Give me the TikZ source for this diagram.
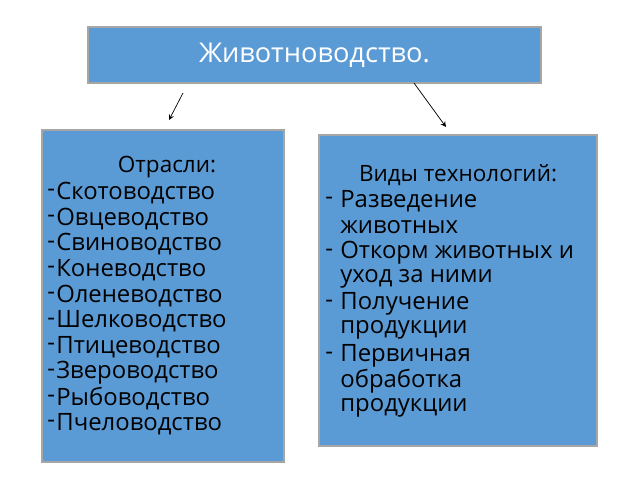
\documentclass[tikz,border=0pt]{standalone}
\usepackage{fontspec}
\setmainfont{Open Sans}
\tikzset{
  panel/.style={draw=gray!70, fill=panelblue, line width=0.6pt},
  itemtext/.style={anchor=west, inner sep=0pt, font=\fontsize{13.6}{16}\selectfont}
}
\definecolor{panelblue}{HTML}{5B9BD5}
\begin{document}
\begin{tikzpicture}[x=0.02cm, y=-0.02cm]
  \useasboundingbox (0,0) rectangle (640,480);
  % boxes
  \draw [panel] (88,27) rectangle (541,83) node (top) [midway, white, font=\fontsize{15.5}{17}\selectfont] {Животноводство.};
  \draw [panel] (42,130) rectangle (284,462);
  \draw [panel] (319,135) rectangle (597,446);
  % arrows
  \coordinate (la) at (183,93);
  \coordinate (lb) at (169,120);
  \coordinate (ra) at (414,83);
  \coordinate (rb) at (446,127);
  \draw [-stealth] (la) -- (lb);
  \draw [-stealth] (ra) -- (rb);
  % left list
  \node (ltitle) [itemtext, anchor=center, font=\fontsize{12.8}{15}\selectfont] at (167,167) {Отрасли:};
  \foreach \t [count=\i from 0] in {Скотоводство, Овцеводство, Свиноводство, Коневодство, Оленеводство, Шелководство, Птицеводство, Звероводство, Рыбоводство, Пчеловодство} {
    \node (lb\i) [itemtext] at (47,193+25.7*\i) {-};
    \node (lt\i) [itemtext] at (56,193+25.7*\i) {\t};
  }
  % right list
  \node (rtitle) [itemtext, anchor=center, font=\fontsize{12.8}{15}\selectfont] at (458,175) {Виды технологий:};
  \foreach \t/\b [count=\i from 0] in {Разведение/-, животных/, Откорм животных и/-, уход за ними/, Получение/-, продукции/, Первичная/-, обработка/, продукции/} {
    \node (rb\i) [itemtext] at (325,201+25.8*\i) {\b};
    \node (rt\i) [itemtext] at (340,201+25.8*\i) {\t};
  }
\end{tikzpicture}
\end{document}
